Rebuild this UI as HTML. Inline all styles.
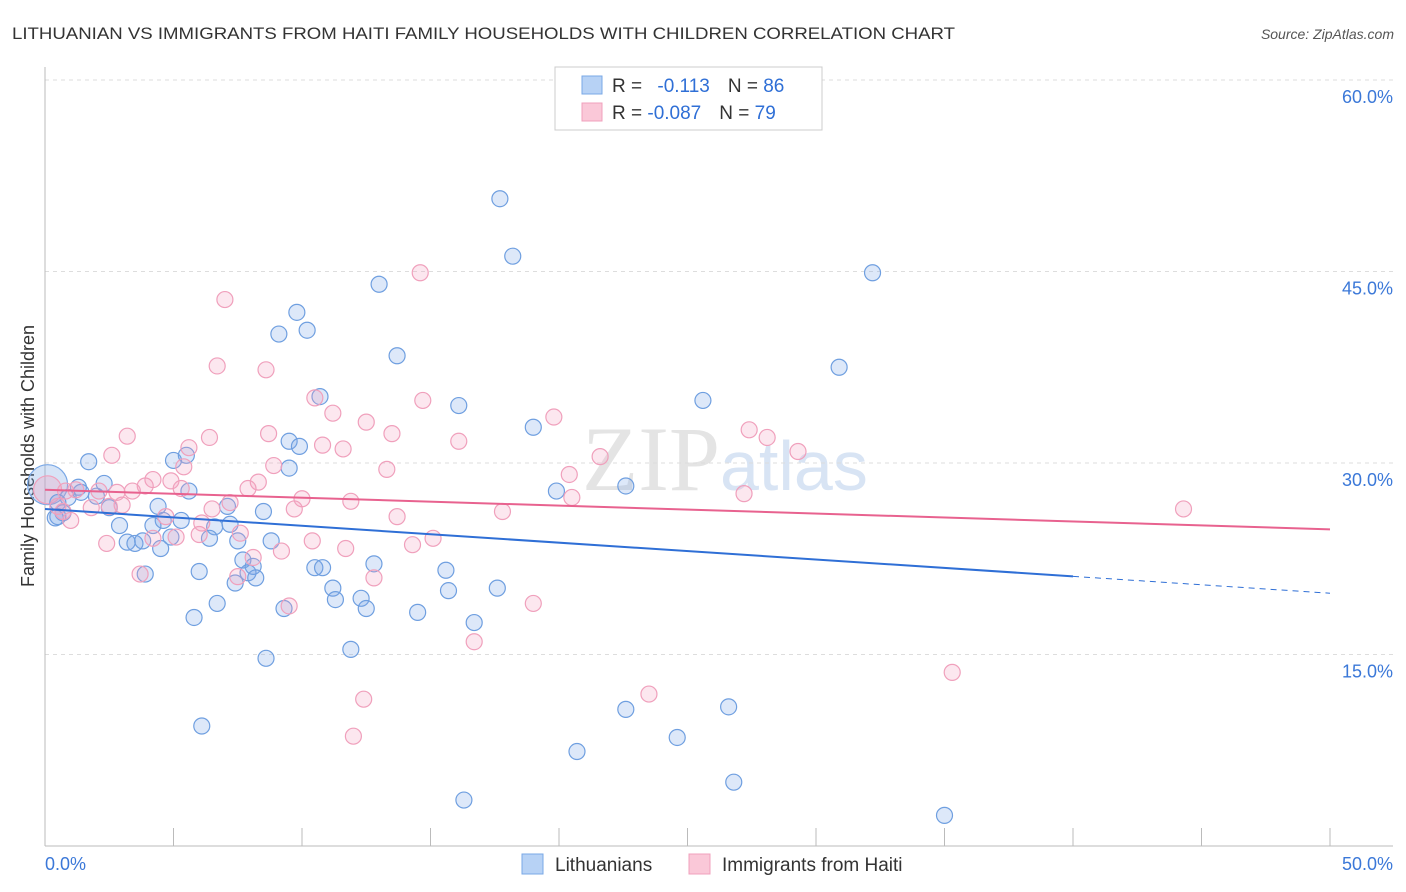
<!DOCTYPE html>
<html><head><meta charset="utf-8"><style>
body{margin:0;background:#fff;font-family:"Liberation Sans",sans-serif;}
svg{display:block}
</style></head><body>
<svg id="chart" width="1406" height="892">
<text x="12" y="39" font-size="17" fill="#333" textLength="943" lengthAdjust="spacingAndGlyphs">LITHUANIAN VS IMMIGRANTS FROM HAITI FAMILY HOUSEHOLDS WITH CHILDREN CORRELATION CHART</text>
<text x="1394" y="39" font-size="14" fill="#555" font-style="italic" text-anchor="end">Source: ZipAtlas.com</text>
<text x="720" y="490" font-size="92" fill="#e4e4e4" text-anchor="end" font-family="Liberation Serif">ZIP</text>
<text x="720" y="490" font-size="70" fill="#d8e4f4">atlas</text>
<text transform="translate(34,456) rotate(-90)" font-size="18" fill="#333" text-anchor="middle">Family Households with Children</text>
<g id="grid"></g><g id="axes"></g><g id="pts"></g><g id="lines"></g>
<g>
<rect x="555" y="67" width="267" height="63" fill="#fff" stroke="#ccc"/>
<rect x="582" y="76" width="20" height="18" fill="#b7d2f5" stroke="#7aa8e6"/>
<rect x="582" y="103" width="20" height="18" fill="#fac8d8" stroke="#f0a0bc"/>
<text x="612" y="92" font-size="19" fill="#333">R = <tspan fill="#2f6fd6" dx="10">-0.113</tspan><tspan dx="18" fill="#333">N = </tspan><tspan fill="#2f6fd6">86</tspan></text>
<text x="612" y="119" font-size="19" fill="#333">R = <tspan fill="#2f6fd6">-0.087</tspan><tspan dx="18" fill="#333">N = </tspan><tspan fill="#2f6fd6">79</tspan></text>
</g>
<g>
<rect x="522" y="854" width="21" height="20" fill="#b7d2f5" stroke="#7aa8e6"/>
<text x="555" y="871" font-size="19" fill="#333">Lithuanians</text>
<rect x="689" y="854" width="21" height="20" fill="#fac8d8" stroke="#f0a0bc"/>
<text x="722" y="871" font-size="19" fill="#333">Immigrants from Haiti</text>
</g>
</svg>
<script>
const blueX=[17.7,18.2,32.2,13.0,9.8,9.1,10.2,13.7,30.9,10.7,16.1,25.6,19.0,9.5,9.9,5.0,5.5,1.7,9.5,19.9,22.6,5.6,2.3,1.3,2.0,1.4,0.9,0.5,2.5,0.7,0.5,0.4,4.4,7.1,8.5,2.9,5.3,4.6,4.2,6.6,7.2,6.4,7.5,3.2,3.5,3.8,4.9,4.5,8.8,7.7,8.1,7.9,8.2,6.0,7.4,12.8,10.5,10.8,15.6,11.2,11.3,12.3,12.5,15.7,17.6,6.7,14.5,9.3,16.7,5.8,11.9,8.6,6.1,22.6,26.6,24.6,20.7,26.8,16.3,35.0,3.9];
const blueY=[50.7,46.2,44.9,44.0,41.8,40.1,40.4,38.4,37.5,35.2,34.5,34.9,32.8,31.7,31.3,30.2,30.6,30.1,29.6,27.8,28.2,27.8,28.4,28.1,27.4,27.7,27.3,26.9,26.5,26.1,25.8,25.7,26.6,26.6,26.2,25.1,25.5,25.5,25.1,25.0,25.2,24.1,23.9,23.8,23.7,23.9,24.2,23.3,23.9,22.4,21.9,21.4,21.0,21.5,20.6,22.1,21.8,21.8,21.6,20.2,19.3,19.4,18.6,20.0,20.2,19.0,18.3,18.6,17.5,17.9,15.4,14.7,9.4,10.7,10.9,8.5,7.4,5.0,3.6,2.4,21.3];
const pinkX=[14.6,7.0,6.7,8.6,10.5,11.2,14.7,19.8,12.5,13.5,3.2,6.4,8.7,16.1,27.4,28.1,10.8,11.6,5.6,2.6,29.3,21.6,8.9,5.4,13.3,20.4,4.2,8.3,4.9,3.9,2.8,3.4,5.3,7.9,1.2,0.8,2.1,27.2,10.0,11.9,20.5,7.2,3.0,1.8,2.5,1.0,4.7,6.5,6.1,9.7,17.8,13.7,44.3,6.0,4.2,5.1,2.4,7.6,10.4,9.2,11.7,14.3,15.1,8.1,3.7,7.5,12.8,19.0,9.5,16.7,23.5,12.4,35.3,12.0,0.7,0.5];
const pinkY=[44.9,42.8,37.6,37.3,35.1,33.9,34.9,33.6,33.2,32.3,32.1,32.0,32.3,31.7,32.6,32.0,31.4,31.1,31.2,30.6,30.9,30.5,29.8,29.7,29.5,29.1,28.7,28.5,28.6,28.2,27.7,27.8,28.0,28.0,27.9,27.8,27.8,27.6,27.2,27.0,27.3,26.9,26.7,26.5,26.6,25.5,25.8,26.4,25.3,26.4,26.2,25.8,26.4,24.4,24.1,24.2,23.7,24.5,23.9,23.1,23.3,23.6,24.1,22.6,21.3,21.1,21.0,19.0,18.8,16.0,11.9,11.5,13.6,8.6,26.2,26.6];
const yTicks=[15,30,45,60];
const yTickLabels=["15.0%","30.0%","45.0%","60.0%"];
const xTicks=[0,5,10,15,20,25,30,35,40,45,50];
const blueTrend=[26.4,19.8];
const pinkTrend=[27.9,24.8];
const X=v=>45+v*25.7;
const Y=v=>846-v*12.767;
const NS="http://www.w3.org/2000/svg";
function mk(tag,attrs,parent){const e=document.createElementNS(NS,tag);for(const k in attrs)e.setAttribute(k,attrs[k]);document.getElementById(parent).appendChild(e);return e;}
yTicks.forEach((t,i)=>{
  const g=mk('line',{x1:45,x2:1393,y1:Y(t),y2:Y(t),stroke:'#ddd','stroke-dasharray':'4,4'},'grid');
  
  
  const l=mk('text',{x:1393,y:Y(t)+23,'font-size':18,fill:'#3b78d8','text-anchor':'end'},'grid');
  l.textContent=yTickLabels[i];
  
  
});
const ax=mk('line',{x1:45,x2:45,y1:67,y2:846,stroke:'#bbb'},'axes');


const bx=mk('line',{x1:45,x2:1393,y1:846,y2:846,stroke:'#bbb'},'axes');


xTicks.forEach(t=>{
  const k=mk('line',{x1:X(t),x2:X(t),y1:828,y2:846,stroke:'#bbb'},'axes');
  
  
});
const x0=mk('text',{x:45,y:870,'font-size':18,fill:'#3b78d8'},'axes');x0.textContent='0.0%';


const x1=mk('text',{x:1393,y:870,'font-size':18,fill:'#3b78d8','text-anchor':'end'},'axes');x1.textContent='50.0%';


const bb=mk('circle',{cx:X(0.1),cy:Y(28.3),r:20,fill:'rgba(120,165,230,0.3)',stroke:'#7aa8e6','stroke-width':1.2},'pts');


const pb=mk('circle',{cx:X(0.1),cy:Y(27.9),r:14,fill:'rgba(245,160,190,0.3)',stroke:'#f0a0bc','stroke-width':1.2},'pts');


blueX.forEach((v,i)=>{
  const c=mk('circle',{cx:X(v),cy:Y(blueY[i]),r:8,fill:'rgba(120,165,230,0.25)',stroke:'#6f9fe0','stroke-width':1.2},'pts');
  
  
});
pinkX.forEach((v,i)=>{
  const c=mk('circle',{cx:X(v),cy:Y(pinkY[i]),r:8,fill:'rgba(245,160,190,0.25)',stroke:'#f0a0bc','stroke-width':1.2},'pts');
  
  
});
const yb=x=>blueTrend[0]+(blueTrend[1]-blueTrend[0])*x/50;
const l1=mk('line',{x1:X(0),y1:Y(yb(0)),x2:X(40),y2:Y(yb(40)),stroke:'#2f6fd6','stroke-width':2},'lines');


const l2=mk('line',{x1:X(40),y1:Y(yb(40)),x2:X(50),y2:Y(yb(50)),stroke:'#2f6fd6','stroke-width':1,'stroke-dasharray':'6,5'},'lines');


const l3=mk('line',{x1:X(0),y1:Y(pinkTrend[0]),x2:X(50),y2:Y(pinkTrend[1]),stroke:'#e8628f','stroke-width':2},'lines');


</script>
</body></html>
